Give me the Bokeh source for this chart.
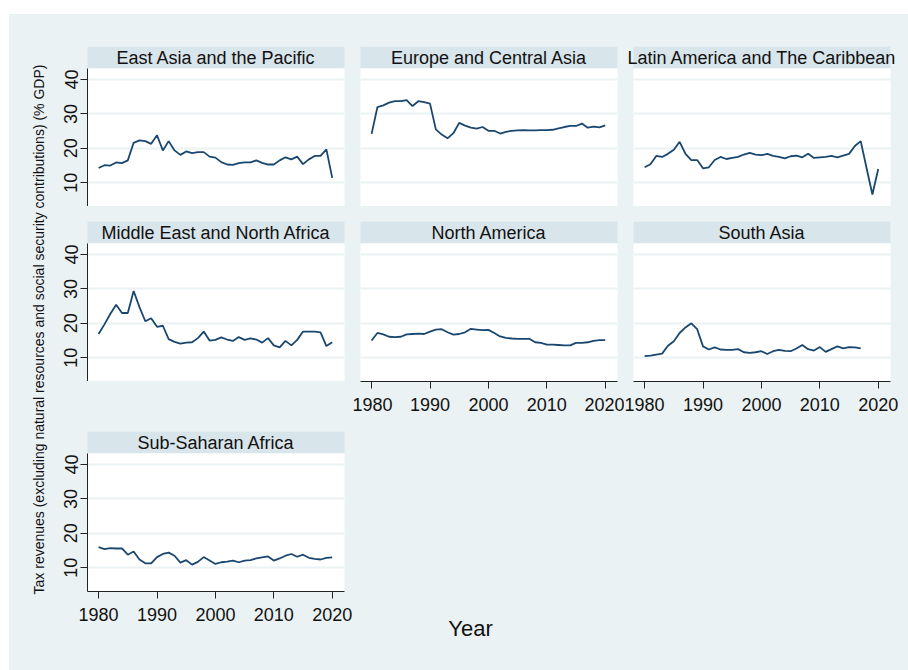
from math import pi
from bokeh.plotting import figure
from bokeh.models import Range1d, FixedTicker, Label, Spacer, BoxAnnotation
from bokeh.layouts import row, column
from bokeh.embed import file_html
from bokeh.resources import INLINE

years = list(range(1980, 2021))
nan = float("nan")

east_asia_pacific = [14.3, 15.1, 15.0, 15.9, 15.7, 16.5, 21.6, 22.3, 22.1, 21.3,
                     23.8, 19.4, 22.1, 19.4, 18.1, 19.1, 18.6, 18.9, 18.9, 17.6,
                     17.3, 16.0, 15.3, 15.2, 15.7, 15.9, 15.9, 16.5, 15.8, 15.3,
                     15.3, 16.5, 17.4, 16.8, 17.6, 15.4, 16.8, 17.8, 17.8, 19.7, 11.4]
europe_central_asia = [24.2, 32.0, 32.5, 33.3, 33.7, 33.7, 34.0, 32.3, 33.7, 33.4,
                       33.0, 25.5, 24.0, 22.9, 24.4, 27.4, 26.6, 26.0, 25.7, 26.2,
                       25.1, 25.1, 24.3, 24.8, 25.1, 25.2, 25.3, 25.2, 25.2, 25.3,
                       25.3, 25.4, 25.8, 26.2, 26.5, 26.5, 27.2, 26.0, 26.3, 26.1, 26.7]
latin_america_caribbean = [14.5, 15.4, 17.8, 17.5, 18.4, 19.6, 21.9, 18.4, 16.6, 16.6,
                           14.2, 14.5, 16.6, 17.5, 16.9, 17.2, 17.5, 18.2, 18.7, 18.2,
                           18.0, 18.4, 17.8, 17.5, 17.1, 17.7, 17.9, 17.4, 18.4, 17.2,
                           17.4, 17.5, 17.8, 17.4, 17.9, 18.4, 20.7, 22.1, 14.3, 6.6, 14.0]
middle_east_north_africa = [16.9, 19.7, 22.7, 25.4, 23.0, 23.0, 29.4, 24.7, 20.6, 21.5,
                            19.0, 19.3, 15.4, 14.6, 14.1, 14.4, 14.5, 15.7, 17.6, 15.0,
                            15.2, 15.9, 15.3, 14.9, 16.0, 15.2, 15.6, 15.3, 14.4, 15.7,
                            13.6, 13.0, 14.9, 13.6, 15.2, 17.6, 17.6, 17.6, 17.4, 13.4, 14.5]
north_america = [15.0, 17.2, 16.8, 16.1, 16.0, 16.1, 16.8, 16.9, 17.0, 16.9,
                 17.6, 18.2, 18.3, 17.4, 16.7, 16.9, 17.4, 18.4, 18.2, 18.0,
                 18.1, 17.2, 16.2, 15.8, 15.6, 15.5, 15.5, 15.5, 14.5, 14.3,
                 13.8, 13.8, 13.7, 13.6, 13.6, 14.3, 14.3, 14.5, 14.9, 15.1, 15.1]
south_asia = [10.5, 10.6, 10.9, 11.2, 13.5, 14.8, 17.2, 18.8, 20.0, 18.3,
              13.3, 12.4, 13.0, 12.4, 12.3, 12.3, 12.5, 11.6, 11.4, 11.6,
              11.9, 11.1, 11.9, 12.3, 12.0, 11.9, 12.7, 13.7, 12.5, 12.1,
              13.1, 11.7, 12.5, 13.3, 12.7, 13.1, 13.0, 12.7, nan, nan, nan]
sub_saharan_africa = [16.0, 15.4, 15.7, 15.6, 15.6, 13.8, 14.7, 12.4, 11.3, 11.3,
                      13.1, 14.0, 14.4, 13.5, 11.5, 12.2, 10.9, 11.7, 13.1, 12.1,
                      11.1, 11.6, 11.8, 12.1, 11.6, 12.1, 12.2, 12.7, 13.0, 13.3,
                      12.1, 12.7, 13.5, 14.0, 13.2, 13.8, 12.9, 12.6, 12.4, 12.9, 13.0]

region_names = ["East Asia and the Pacific", "Europe and Central Asia",
                "Latin America and The Caribbean", "Middle East and North Africa",
                "North America", "South Asia", "Sub-Saharan Africa"]
y_ticks = [10, 20, 30, 40]
x_ticks = [1980, 1990, 2000, 2010, 2020]
y_title = "Tax revenues (excluding natural resources and social security contributions) (% GDP)"
x_title = "Year"

BG = "#EAF2F3"
STRIP = "#D8E5EB"
LINE = "#1A476F"
FONT = "Liberation Sans"
FW = 257      # frame width
FH = 138      # frame height
HH = 22       # header height
XB = 40       # x-axis border
XR = (1978.1, 2022.1)
YR = (3.1, 43.2)


def header(name, bl, br):
    w = bl + FW + br
    f = figure(width=w, height=HH, x_range=Range1d(0, w), y_range=Range1d(0, HH),
               x_axis_location=None, y_axis_location=None, toolbar_location=None,
               output_backend="svg", min_border=0)
    f.background_fill_color = BG
    f.border_fill_color = BG
    f.outline_line_color = None
    f.grid.visible = False
    f.add_layout(BoxAnnotation(left=bl, right=bl + FW, fill_color=STRIP, fill_alpha=1.0,
                               line_color=None, level="underlay"))
    f.add_layout(Label(x=bl + FW / 2, y=HH / 2, text=name, text_align="center",
                       text_baseline="middle", text_font=FONT, text_font_size="18px",
                       text_color="#111111"))
    # wrapped in its own row so that its frame is not aligned with the panels' frames
    return row(f, styles={"background-color": BG})


def panel(vals, bl, br, show_y, show_x):
    p = figure(width=bl + FW + br, height=FH + (XB if show_x else 0),
               x_range=Range1d(*XR), y_range=Range1d(*YR),
               x_axis_location="below" if show_x else None,
               y_axis_location="left" if show_y else None,
               toolbar_location=None, output_backend="svg",
               min_border_left=bl, min_border_right=br, min_border_top=0,
               min_border_bottom=XB if show_x else 0)
    p.background_fill_color = "white"
    p.border_fill_color = BG
    p.outline_line_color = None
    p.xgrid.visible = False
    p.ygrid.ticker = FixedTicker(ticks=y_ticks)
    p.ygrid.grid_line_color = BG
    p.ygrid.grid_line_width = 2
    for ax in p.xaxis:
        ax.ticker = FixedTicker(ticks=x_ticks)
        ax.major_label_standoff = 9
    for ax in p.yaxis:
        ax.ticker = FixedTicker(ticks=y_ticks)
        ax.major_label_orientation = "vertical"
        ax.major_label_standoff = 3
    for ax in p.axis:
        ax.axis_line_color = "#222222"
        ax.axis_line_width = 1
        ax.major_tick_line_color = "#222222"
        ax.major_tick_out = 7
        ax.major_tick_in = 0
        ax.minor_tick_line_color = None
        ax.major_label_text_font = FONT
        ax.major_label_text_font_size = "18px"
        ax.major_label_text_color = "#111111"
    p.line(years, vals, line_color=LINE, line_width=1.8)
    return p


def sp(w, h):
    return Spacer(width=w, height=h, styles={"background-color": BG})


series = [east_asia_pacific, europe_central_asia, latin_america_caribbean,
          middle_east_north_africa, north_america, south_asia, sub_saharan_africa]

# column borders (left, right)
c1 = (39, 8)
c2 = (8, 7)
c3 = (9, 18)
w1 = c1[0] + FW + c1[1]
w2 = c2[0] + FW + c2[1]
w3 = c3[0] + FW + c3[1]
MAIN_H = 656

col1 = column(
    sp(w1, 32), header(region_names[0], *c1), panel(series[0], *c1, True, False),
    sp(w1, 15), header(region_names[3], *c1), panel(series[3], *c1, True, False),
    sp(w1, 50), header(region_names[6], *c1), panel(series[6], *c1, True, True),
    styles={"background-color": BG})

year_fig = figure(width=w2, height=38, x_range=Range1d(0, w2), y_range=Range1d(0, 38),
                  x_axis_location=None, y_axis_location=None, toolbar_location=None,
                  output_backend="svg", min_border=0)
year_fig.grid.visible = False
year_fig.outline_line_color = None
year_fig.background_fill_color = BG
year_fig.border_fill_color = BG
year_fig.add_layout(Label(x=118, y=20, text=x_title, text_align="center", text_baseline="middle",
                          text_font=FONT, text_font_size="22px", text_color="#111111"))

col2 = column(
    sp(w2, 32), header(region_names[1], *c2), panel(series[1], *c2, False, False),
    sp(w2, 15), header(region_names[4], *c2), panel(series[4], *c2, False, True),
    sp(w2, 189), row(year_fig, styles={"background-color": BG}),
    styles={"background-color": BG})

col3 = column(
    sp(w3, 32), header(region_names[2], *c3), panel(series[2], *c3, False, False),
    sp(w3, 15), header(region_names[5], *c3), panel(series[5], *c3, False, True),
    styles={"background-color": BG})

ytitle_fig = figure(width=39, height=MAIN_H, x_range=Range1d(0, 39), y_range=Range1d(0, MAIN_H),
                    x_axis_location=None, y_axis_location=None, toolbar_location=None,
                    output_backend="svg", min_border=0)
ytitle_fig.grid.visible = False
ytitle_fig.outline_line_color = None
ytitle_fig.background_fill_color = BG
ytitle_fig.border_fill_color = BG
ytitle_fig.add_layout(Label(x=29, y=MAIN_H - 315, text=y_title, angle=pi / 2, text_align="center",
                            text_baseline="middle", text_font=FONT, text_font_size="14px",
                            text_color="#111111"))

main = row(ytitle_fig, col1, col2, col3, styles={"background-color": BG})
p = column(Spacer(width=908, height=14), row(Spacer(width=9, height=MAIN_H), main))

open("out.html", "w").write(file_html(p, INLINE))
